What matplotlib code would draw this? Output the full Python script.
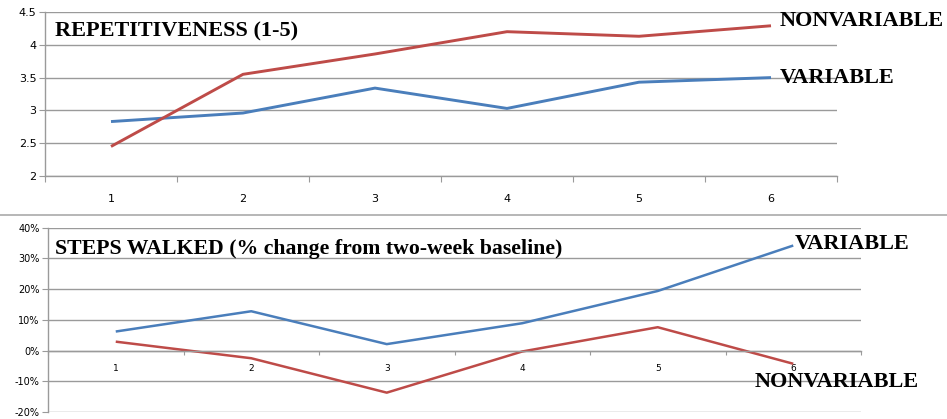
import matplotlib
matplotlib.use("Agg")
import matplotlib.pyplot as plt
from matplotlib.ticker import FuncFormatter

weeks = [1, 2, 3, 4, 5, 6]
week_labels = ["1", "2", "3", "4", "5", "6"]

rep_variable = [2.83, 2.96, 3.34, 3.03, 3.43, 3.50]
rep_nonvariable = [2.45, 3.55, 3.86, 4.20, 4.13, 4.29]
rep_yticks = [2, 2.5, 3, 3.5, 4, 4.5]

steps_variable = [0.062, 0.128, 0.021, 0.089, 0.194, 0.342]
steps_nonvariable = [0.029, -0.025, -0.137, -0.003, 0.076, -0.043]
steps_yticks = [-0.2, -0.1, 0.0, 0.1, 0.2, 0.3, 0.4]

BLUE = "#4a7ebb"
RED = "#be4b48"
GRID = "#9a9a9a"
W, H = 947, 419

fig = plt.figure(figsize=(W / 100, H / 100), dpi=100)

def px_axes(x0, y0, x1, y1):
    return fig.add_axes([x0 / W, 1 - y1 / H, (x1 - x0) / W, (y1 - y0) / H])

serif = "Liberation Serif"
sans = "DejaVu Sans"

def style(ax, labelsize_x, labelsize_y, xpad, xzero=None):
    for s in ["top", "right"]:
        ax.spines[s].set_visible(False)
    for s in ["left", "bottom"]:
        ax.spines[s].set_color(GRID)
        ax.spines[s].set_linewidth(1.0)
    if xzero is not None:
        ax.spines["bottom"].set_position(("data", xzero))
    ax.set_xlim(0.5, 6.5)
    bounds = [0.5 + i for i in range(7)]
    ax.set_xticks(bounds)
    ax.set_xticklabels([])
    ax.set_xticks(weeks, minor=True)
    ax.set_xticklabels(week_labels, minor=True, fontsize=labelsize_x, family=sans)
    ax.tick_params(axis="x", which="major", length=4, color=GRID, direction="out")
    ax.tick_params(axis="x", which="minor", length=0, pad=xpad)
    ax.tick_params(axis="y", length=4, color=GRID, labelsize=labelsize_y, pad=2)
    for lab in ax.get_yticklabels():
        lab.set_family(sans)
    ax.grid(axis="y", color=GRID, linewidth=1.0)
    ax.set_axisbelow(True)

# Top chart
ax1 = px_axes(45, 12, 837, 176)
ax1.plot(weeks, rep_variable, color=BLUE, lw=2.1, solid_capstyle="butt")
ax1.plot(weeks, rep_nonvariable, color=RED, lw=2.1, solid_capstyle="butt")
ax1.set_ylim(2, 4.5)
ax1.set_yticks(rep_yticks)
ax1.set_yticklabels(["2", "2.5", "3", "3.5", "4", "4.5"])
style(ax1, 8, 8, 13)
ax1.text(0.013, 0.945, "REPETITIVENESS (1-5)", transform=ax1.transAxes,
         family=serif, fontweight="bold", fontsize=16, va="top", ha="left")

# Separator line
fig.add_artist(plt.Line2D([0, 1], [1 - 215 / H, 1 - 215 / H], color="#aaaaaa", lw=1.2,
                          transform=fig.transFigure))

# Bottom chart
ax2 = px_axes(48, 227.7, 861, 412)
ax2.plot(weeks, steps_variable, color=BLUE, lw=1.8, solid_capstyle="butt")
ax2.plot(weeks, steps_nonvariable, color=RED, lw=1.8, solid_capstyle="butt")
ax2.set_ylim(-0.2, 0.4)
ax2.set_yticks(steps_yticks)
ax2.yaxis.set_major_formatter(FuncFormatter(lambda v, p: f"{v*100:.0f}%"))
style(ax2, 6.5, 7, 10, xzero=0)
ax2.tick_params(axis="x", which="major", length=3)
ax2.text(0.009, 0.94, "STEPS WALKED (% change from two-week baseline)",
         transform=ax2.transAxes, family=serif, fontweight="bold", fontsize=15.7,
         va="top", ha="left")

# Series labels
def ftext(x, y, s, size):
    fig.text(x / W, 1 - y / H, s, family=serif, fontweight="bold", fontsize=size,
             va="center", ha="left")

ftext(780, 21, "NONVARIABLE", 16)
ftext(780, 78, "VARIABLE", 16)
ftext(795, 244, "VARIABLE", 16)
ftext(755, 382, "NONVARIABLE", 16)

fig.savefig("out.png", dpi=100)
